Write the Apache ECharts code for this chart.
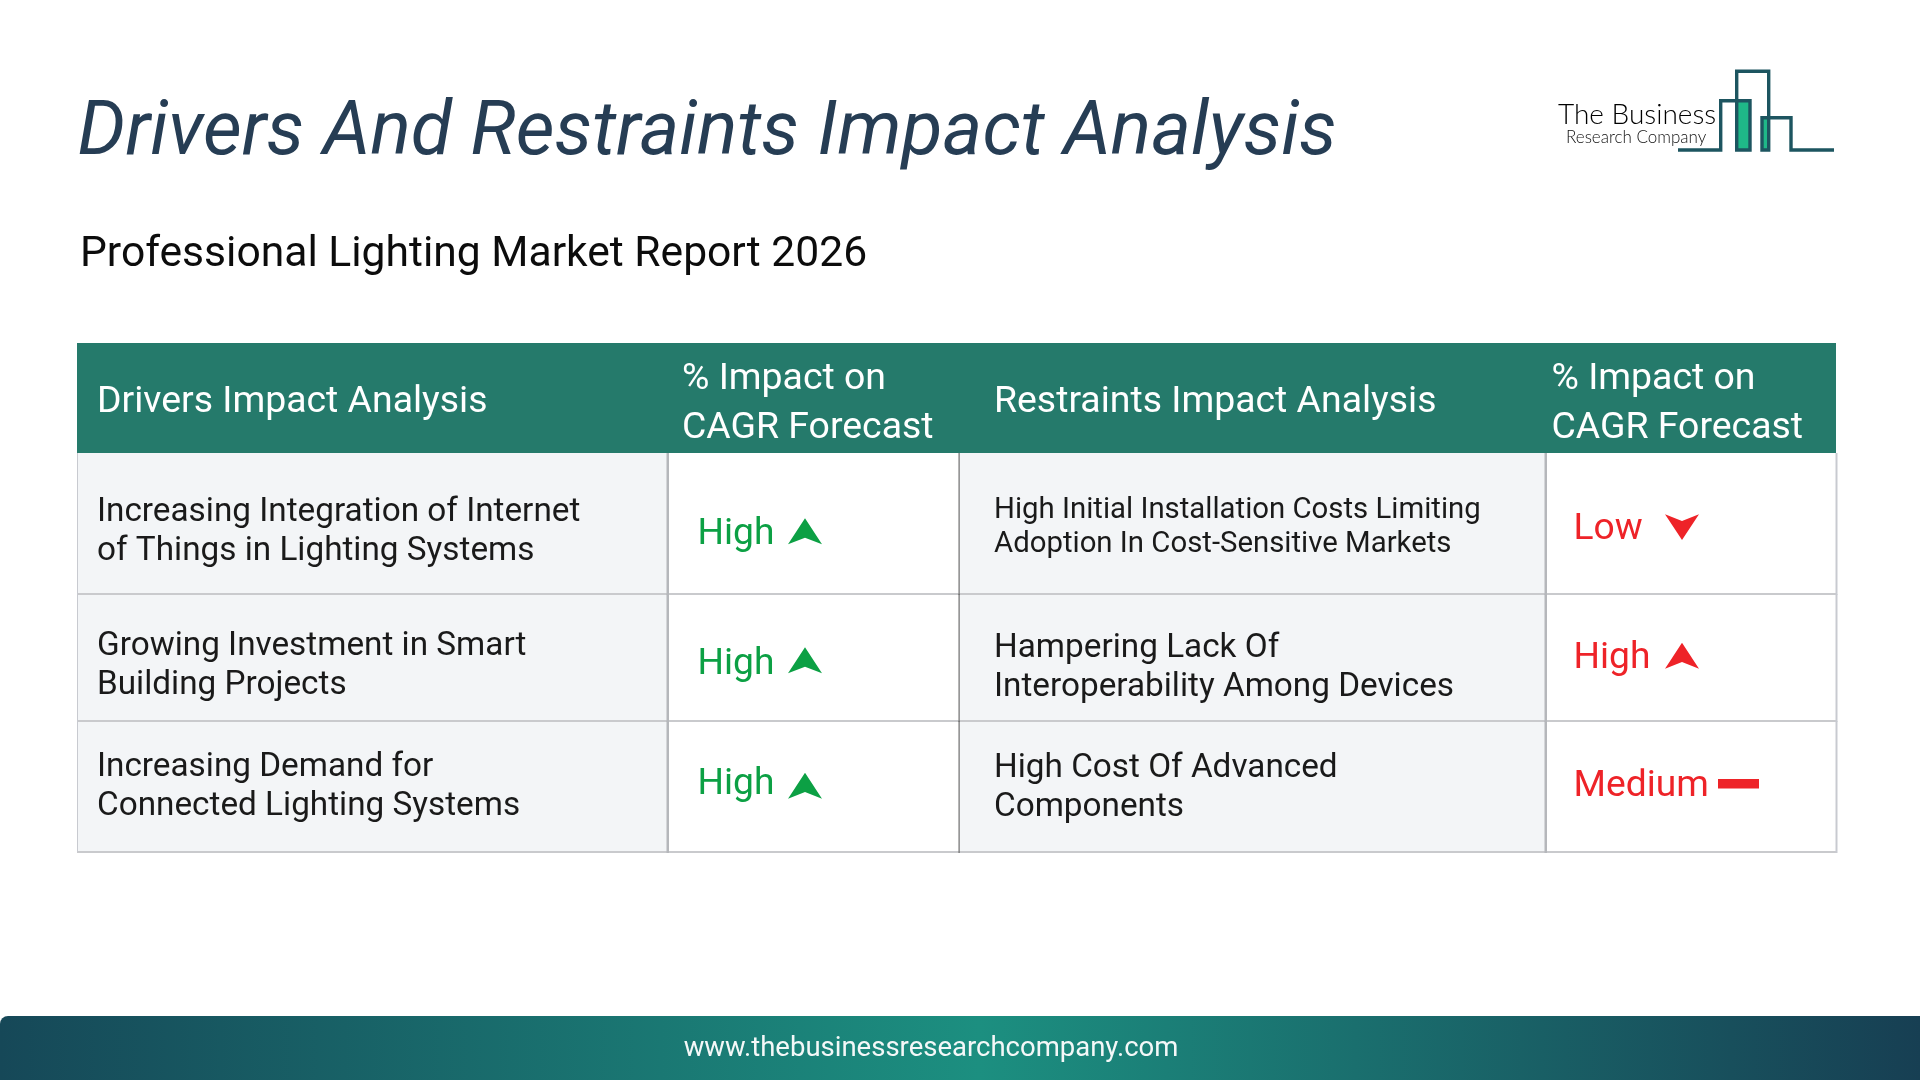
<!DOCTYPE html>
<html><head><meta charset="utf-8">
<style>html,body{margin:0;padding:0;background:#fff}#c{width:1920px;height:1080px}</style>
<script src="https://cdn.jsdelivr.net/npm/echarts@6/dist/echarts.min.js"></script>
</head><body><div id="c"></div>
<script>
const titleText = 'Drivers And Restraints Impact Analysis';
const subtitleText = 'Professional Lighting Market Report 2026';
const footerText = 'www.thebusinessresearchcompany.com';
const columnKeys = ['drivers', 'driverImpact', 'restraints', 'restraintImpact'];
const rowKeys = ['head', 'r1', 'r2', 'r3'];
const headers = ['Drivers Impact Analysis', '% Impact on\nCAGR Forecast', 'Restraints Impact Analysis', '% Impact on\nCAGR Forecast'];
const drivers = ['Increasing Integration of Internet\nof Things in Lighting Systems', 'Growing Investment in Smart\nBuilding Projects', 'Increasing Demand for\nConnected Lighting Systems'];
const driverImpact = ['High', 'High', 'High'];
const restraints = ['High Initial Installation Costs Limiting\nAdoption In Cost-Sensitive Markets', 'Hampering Lack Of\nInteroperability Among Devices', 'High Cost Of Advanced\nComponents'];
const restraintImpact = ['Low', 'High', 'Medium'];

// layout tuning, per column / row
const columnSizes = [590, 292, 586, 291];
const rowSizes = [110, 141, 127, 131];
const FONT = 'Roboto';
const GREEN = '#0ca044', RED = '#ee2328';
const textX = [20, 30.5, 35, 28.5];
const arrowX = [0, 138, 0, 137];
const headX = [20, 15, 35, 6.5];
const headNudge = [5, 6, 5, 6];
const textNudge = {0: [9, 9, 1, ], 1: [11, 7, -2], 2: [4.5, 11, 2], 3: [6.5, 1, 0]};
const arrowBottom = {1: [20.8, 15.8, 12.2], 3: [16.5, 11.2, -2.5]};
const edgeRight = [[2.5, '#b5b7bb', 1], [1.2, '#6e6e6e', 0], [2.5, '#b5b7bb', 1], [2, '#c8cad0', 0]];

function cellText(c, r) {
  if (r === 0) return headers[c];
  return [drivers, driverImpact, restraints, restraintImpact][c][r - 1];
}
const cells = [];
rowKeys.forEach((_, r) => columnKeys.forEach((_, c) => cells.push([c, r])));

function arrow(kind, cx, by, color) {
  const pts = kind === 'Low'
    ? [[-17, -25.7], [0, -19], [17, -25.7], [0, 0]]
    : [[0, -26], [-17, 0], [0, -6.6], [17, 0]];
  return {type: 'polygon', z2: 5, shape: {points: pts.map(p => [cx + p[0], by + p[1]])}, style: {fill: color}};
}

function renderCell(params, api) {
  const c = api.value(0), r = api.value(1);
  const rect = api.layout([columnKeys[c], rowKeys[r]]).rect;
  const kids = [];
  const txt = cellText(c, r);
  const cy = rect.y + rect.height / 2;
  if (r === 0) {
    kids.push({type: 'rect', z2: 3, shape: {x: rect.x, y: rect.y, width: rect.width, height: rect.height}, style: {fill: '#257a6b'}});
    const lines = txt.split('\n');
    lines.forEach((l, i) => kids.push({type: 'text', z2: 5, style: {
      x: rect.x + headX[c], y: cy + headNudge[c] + (i - (lines.length - 1) / 2) * 49,
      text: l, fill: '#ffffff', font: '400 37.4px ' + FONT, verticalAlign: 'middle', align: 'left'}}));
    return {type: 'group', children: kids};
  }
  const gray = c === 0 || c === 2;
  kids.push({type: 'rect', z2: 0, shape: {x: rect.x, y: rect.y, width: rect.width, height: rect.height}, style: {fill: gray ? '#f3f5f7' : '#ffffff'}});
  const e = edgeRight[c];
  kids.push({type: 'rect', z2: 2, shape: {x: rect.x + rect.width - 0.5, y: rect.y, width: e[0], height: rect.height + 1}, style: {fill: e[1]}});
  kids.push({type: 'rect', z2: 1, shape: {x: rect.x, y: rect.y + rect.height - 1, width: rect.width, height: 2}, style: {fill: '#c9cacd'}});
  if (c === 0) kids.push({type: 'rect', z2: 2, shape: {x: rect.x, y: rect.y, width: 1, height: rect.height}, style: {fill: '#c8cad0'}});
  const nudge = textNudge[c][r - 1];
  if (gray) {
    const small = c === 2 && r === 1;
    const size = small ? 29.35 : 33.3;
    const gap = small ? 34 : 39;
    txt.split('\n').forEach((l, i) => kids.push({type: 'text', z2: 5, style: {
      x: rect.x + textX[c], y: cy + nudge + (i - 0.5) * gap, text: l, fill: '#1a1a1a',
      font: '400 ' + size + 'px ' + FONT, verticalAlign: 'middle', align: 'left'}}));
  } else {
    const color = c === 1 ? GREEN : RED;
    kids.push({type: 'text', z2: 5, style: {x: rect.x + textX[c], y: cy + nudge, text: txt, fill: color,
      font: '400 37.2px ' + FONT, verticalAlign: 'middle', align: 'left'}});
    const by = cy + arrowBottom[c][r - 1];
    if (txt === 'Medium') {
      kids.push({type: 'rect', z2: 5, shape: {x: rect.x + 173, y: by - 5, width: 41, height: 9.5}, style: {fill: color}});
    } else {
      kids.push(arrow(txt, rect.x + arrowX[c], by, color));
    }
  }
  return {type: 'group', children: kids};
}

const logoPath = [[1678,150],[1720.7,150],[1720.7,100.7],[1750,100.7],[1750,150],[1736.7,150],[1736.7,71.3],[1768.7,71.3],[1768.7,150],[1762,150],[1762,117.7],[1791,117.7],[1791,150],[1834,150]];

const chart = echarts.init(document.getElementById('c'));
chart.setOption({
  backgroundColor: '#ffffff',
  animation: false,
  matrix: {
    left: 77, top: 343, width: 1759, height: 509,
    x: {show: false, data: columnKeys.map((k, i) => ({value: k, size: columnSizes[i]}))},
    y: {show: false, data: rowKeys.map((k, i) => ({value: k, size: rowSizes[i]}))},
    body: {itemStyle: {borderWidth: 0, color: 'transparent'}},
    backgroundStyle: {color: 'transparent', borderWidth: 0}
  },
  series: [{
    type: 'custom', coordinateSystem: 'matrix', data: cells, renderItem: renderCell,
    encode: {x: 0, y: 1}, silent: true, clip: false
  }],
  graphic: {elements: [
    {type: 'text', left: 77.5, top: 98, style: {text: titleText, font: 'italic 400 75.4px ' + FONT, fill: '#263d54'}},
    {type: 'text', left: 80, top: 234, style: {text: subtitleText, font: '400 42.6px ' + FONT, fill: '#0c0c0c'}},
    {type: 'rect', shape: {x: 1736.7, y: 100.7, width: 13.3, height: 49.3}, style: {fill: '#1fb888'}},
    {type: 'rect', shape: {x: 1762, y: 117.7, width: 6.7, height: 32.3}, style: {fill: '#1fb888'}},
    {type: 'polyline', shape: {points: logoPath}, style: {stroke: '#1d5560', lineWidth: 3.4, fill: null}},
    {type: 'text', left: 1558, top: 101, style: {text: 'The Business', font: '300 28px Lato', fill: '#000000'}},
    {type: 'text', left: 1566, top: 129, style: {text: 'Research Company', font: '300 17px Lato', fill: '#111111'}},
    {type: 'rect', shape: {x: 0, y: 1016, width: 1920, height: 64, r: [8, 0, 0, 0]},
      style: {fill: new echarts.graphic.LinearGradient(0, 0, 1, 0, [
        {offset: 0, color: '#164858'}, {offset: 0.51, color: '#1c8f80'}, {offset: 1, color: '#173f53'}])}},
    {type: 'text', x: 931, y: 1049.5, style: {text: footerText, font: '400 27.5px ' + FONT, fill: '#f4f8f8', align: 'center', verticalAlign: 'middle'}}
  ]}
});
</script></body></html>
